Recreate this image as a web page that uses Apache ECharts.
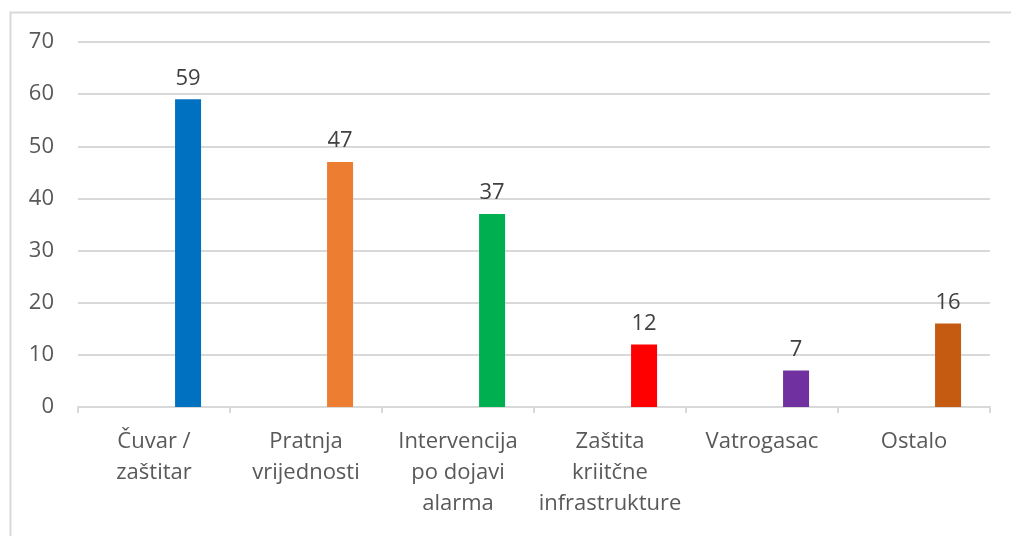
<!DOCTYPE html>
<html>
<head>
<meta charset="utf-8">
<script src="https://cdn.jsdelivr.net/npm/echarts@6/dist/echarts.min.js"></script>
<style>html,body{margin:0;padding:0;background:#fff}#c{width:1011px;height:536px}</style>
</head>
<body>
<div id="c"></div>
<script>
const categories = ['Čuvar /\nzaštitar', 'Pratnja\nvrijednosti', 'Intervencija\npo dojavi\nalarma', 'Zaštita\nkriitčne\ninfrastrukture', 'Vatrogasac', 'Ostalo'];
const values = [59, 47, 37, 12, 7, 16];
const colors = ['#0070C0', '#ED7D31', '#00B050', '#FF0000', '#7030A0', '#C55A11'];
const yTicks = { min: 0, max: 70, interval: 10 };

const chart = echarts.init(document.getElementById('c'));
const font = '"Open Sans", "Noto Sans", sans-serif';
chart.setOption({
  animation: false,
  graphic: [{
    type: 'rect', left: 8, top: 10,
    shape: { width: 1100, height: 700 },
    style: { fill: 'none', stroke: '#d9d9d9', lineWidth: 2 }
  }],
  grid: { left: 78, right: 21, top: 42, bottom: 129 },
  xAxis: {
    type: 'category',
    data: categories,
    axisLine: { lineStyle: { color: '#d9d9d9', width: 2 } },
    axisTick: { show: true, length: 6, lineStyle: { color: '#d9d9d9', width: 2 } },
    axisLabel: { color: '#595959', fontSize: 22, fontFamily: font, lineHeight: 31, margin: 19, interval: 0 }
  },
  yAxis: {
    type: 'value',
    min: yTicks.min, max: yTicks.max, interval: yTicks.interval,
    axisLine: { show: false },
    axisTick: { show: false },
    splitLine: { lineStyle: { color: '#d9d9d9', width: 2 } },
    axisLabel: { color: '#595959', fontSize: 22, fontFamily: font, margin: 24 }
  },
  series: [
    { type: 'bar', name: 'spacer', data: values.map(() => '-'), barWidth: 26, barGap: '162%', silent: true },
    {
      type: 'bar', name: 'values', barWidth: 26, barGap: '162%',
      data: values.map((v, i) => ({ value: v, itemStyle: { color: colors[i] } })),
      label: { show: true, position: 'top', distance: 10, color: '#404040', fontSize: 22, fontFamily: font }
    }
  ]
});
</script>
</body>
</html>
